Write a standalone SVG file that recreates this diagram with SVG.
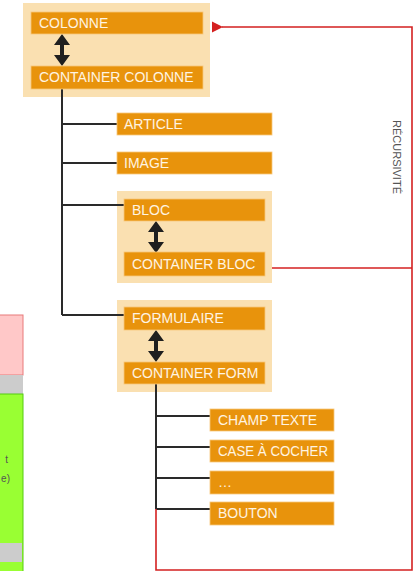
<svg xmlns="http://www.w3.org/2000/svg" width="417" height="571" viewBox="0 0 417 571">
<style>
.grp{fill:#fae0b1}
.box{fill:#e8930c;stroke:#f7c77a;stroke-width:0.8}
.lbl{font-family:"Liberation Sans",Arial,sans-serif;font-size:14px;fill:#fff4e2}
.blk{fill:none;stroke:#2a2a2a;stroke-width:2}
.red{fill:none;stroke:#d42121;stroke-width:1.6}
</style>
<defs>
<marker id="redhead" viewBox="0 0 10 10" refX="1" refY="5" markerWidth="7" markerHeight="7" orient="auto-start-reverse">
<path d="M0,5 L10,0 L10,10 Z" fill="#d42121"/>
</marker>
<path id="dbl" d="M0,0 L8,11 L2,11 L2,21 L8,21 L0,32 L-8,21 L-2,21 L-2,11 L-8,11 Z" fill="#1f1f1f"/>
</defs>
<rect width="417" height="571" fill="#ffffff"/>
<g id="left-partial">
<rect x="-2" y="315" width="25" height="60" fill="#ffc8c8" stroke="#e87a7a" stroke-width="1"/>
<rect x="-2" y="375" width="25" height="19" fill="#cccccc"/>
<rect x="-2" y="394" width="25" height="180" fill="#99ff33" stroke="#55cc11" stroke-width="1"/>
<rect x="-2" y="543" width="24" height="19" fill="#cccccc"/>
<text x="8" y="463" text-anchor="end" font-family="Liberation Sans, Arial, sans-serif" font-size="10" fill="#555">t</text>
<text x="10" y="482" text-anchor="end" font-family="Liberation Sans, Arial, sans-serif" font-size="10" fill="#555">e)</text>
</g>
<g id="colonne-group">
<rect class="grp" x="23" y="3" width="187" height="94"/>
</g>
<g id="bloc-group">
<rect class="grp" x="117" y="191" width="155" height="92"/>
</g>
<g id="form-group">
<rect class="grp" x="117" y="300" width="155" height="92"/>
</g>
<g id="connectors">
<path class="blk" d="M62,89 V315 M62,124 H117 M62,163 H117 M62,205 H124 M62,315 H124"/>
<path class="blk" d="M156,384 V509 M156,416 H210 M156,447 H210 M156,478 H210 M156,509 H210"/>
<path class="red" d="M156,509 V570 H412 V27 H222" marker-end="url(#redhead)"/>
<path class="red" d="M272,268 H412"/>
<use href="#dbl" x="62" y="34"/>
<use href="#dbl" x="156" y="221"/>
<use href="#dbl" x="156" y="330"/>
</g>
<g id="colonne">
<rect class="box" x="31" y="12" width="172" height="22"/>
<text class="lbl" x="39" y="28">COLONNE</text>
</g>
<g id="container-colonne">
<rect class="box" x="31" y="66" width="172" height="23"/>
<text class="lbl" x="39" y="82">CONTAINER COLONNE</text>
</g>
<g id="article">
<rect class="box" x="117" y="113" width="155" height="22"/>
<text class="lbl" x="124" y="129">ARTICLE</text>
</g>
<g id="image">
<rect class="box" x="117" y="152" width="155" height="22"/>
<text class="lbl" x="124" y="168">IMAGE</text>
</g>
<g id="bloc">
<rect class="box" x="124" y="199" width="141" height="22"/>
<text class="lbl" x="132" y="215">BLOC</text>
</g>
<g id="container-bloc">
<rect class="box" x="124" y="252" width="141" height="24"/>
<text class="lbl" x="132" y="269">CONTAINER BLOC</text>
</g>
<g id="formulaire">
<rect class="box" x="124" y="307" width="141" height="23"/>
<text class="lbl" x="132" y="323">FORMULAIRE</text>
</g>
<g id="container-form">
<rect class="box" x="124" y="362" width="141" height="22"/>
<text class="lbl" x="132" y="378">CONTAINER FORM</text>
</g>
<g id="champ-texte">
<rect class="box" x="210" y="409" width="124" height="22"/>
<text class="lbl" x="218" y="425">CHAMP TEXTE</text>
</g>
<g id="case-a-cocher">
<rect class="box" x="210" y="440" width="124" height="22"/>
<text class="lbl" x="218" y="456" textLength="110" lengthAdjust="spacingAndGlyphs">CASE À COCHER</text>
</g>
<g id="etc">
<rect class="box" x="210" y="471" width="124" height="23"/>
<text class="lbl" x="218" y="487">…</text>
</g>
<g id="bouton">
<rect class="box" x="210" y="502" width="124" height="23"/>
<text class="lbl" x="218" y="518">BOUTON</text>
</g>
<g id="recursivite-label">
<text x="0" y="0" transform="translate(393,157) rotate(90)" text-anchor="middle" font-family="Liberation Sans, Arial, sans-serif" font-size="11" fill="#555">RÉCURSIVITÉ</text>
</g>
</svg>
